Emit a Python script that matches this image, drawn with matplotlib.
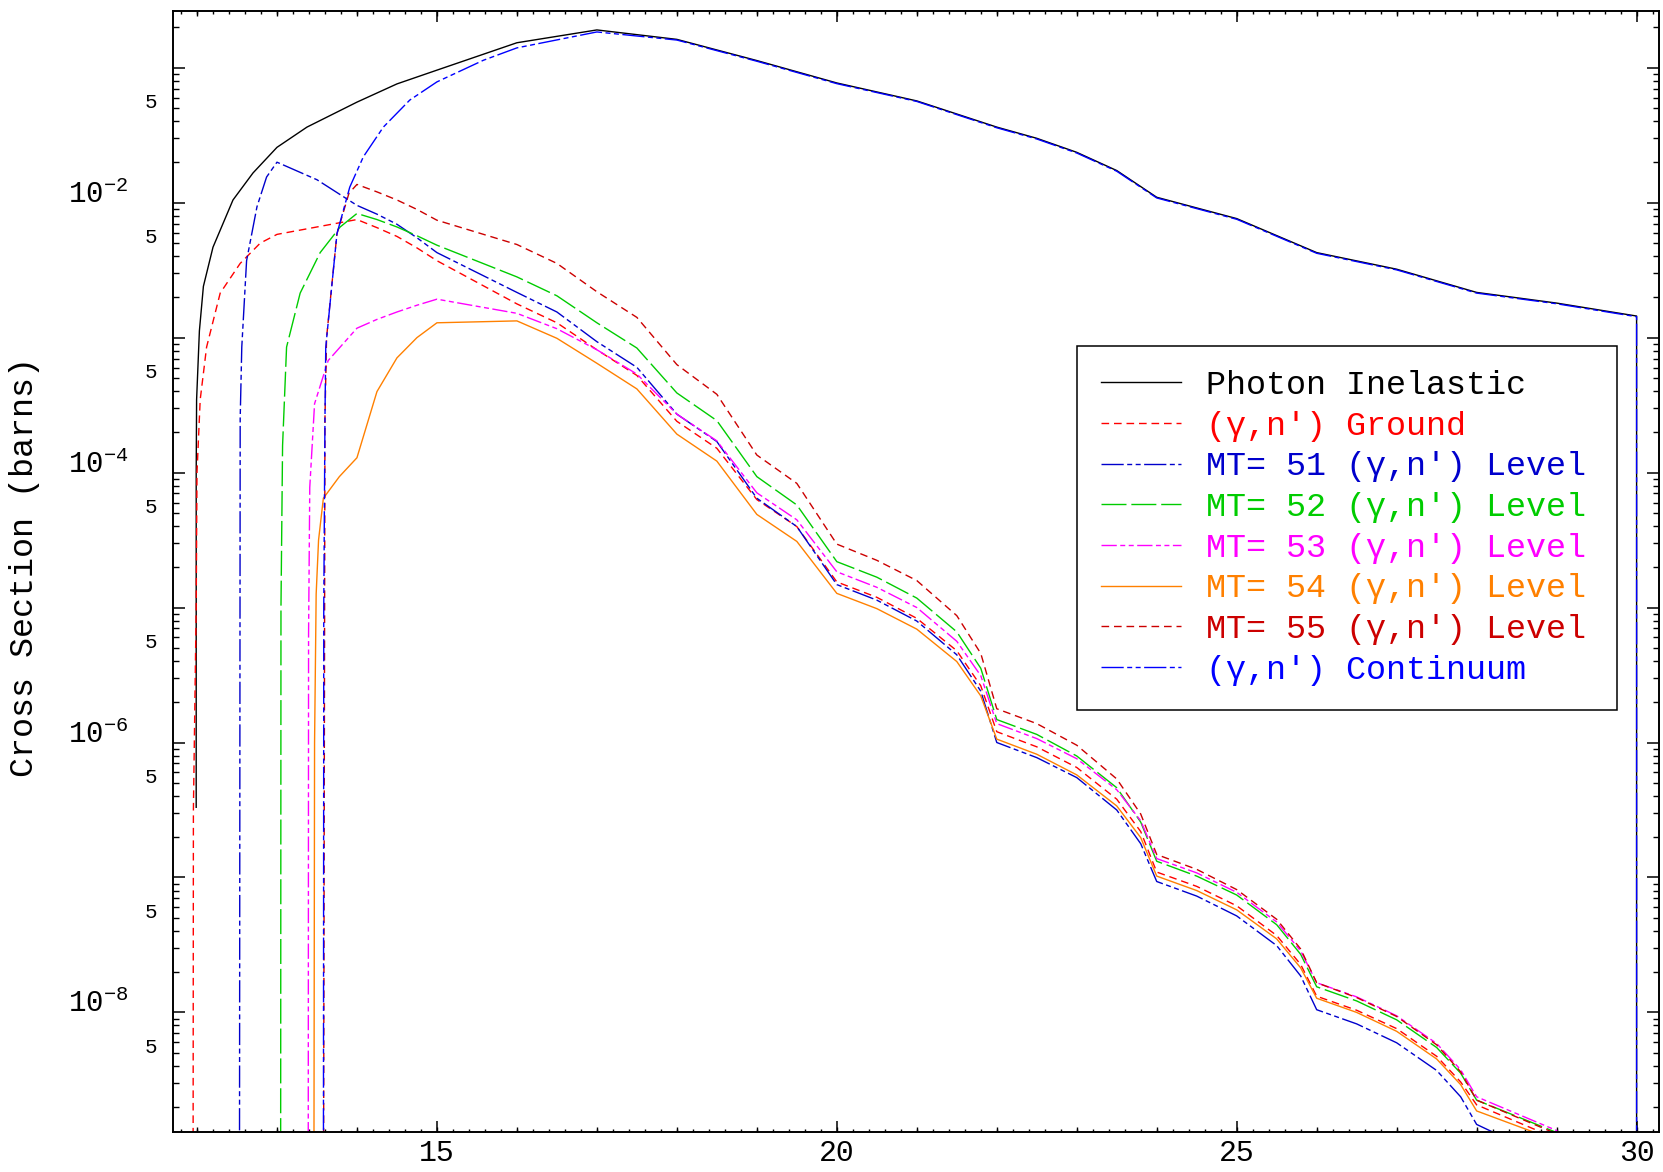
import numpy as np
import matplotlib
matplotlib.use("Agg")
import matplotlib.pyplot as plt
from matplotlib.ticker import FixedLocator, FuncFormatter, MultipleLocator

plt.rcParams['font.family'] = ['Liberation Mono', 'DejaVu Sans']
plt.rcParams['mathtext.fontset'] = 'custom'
plt.rcParams['mathtext.rm'] = 'Liberation Mono'
plt.rcParams['lines.scale_dashes'] = False

# ---------------------------------------------------------------------------
# data: energy (MeV) and log10 of cross section (barns)
# -10 means the curve leaves the frame at the bottom
# ---------------------------------------------------------------------------

inel_x = [11.99, 11.99, 11.995, 12.03, 12.08, 12.2, 12.45, 12.7, 13.0, 13.375,
          14.0, 14.5, 15.0, 16.0, 17.0, 18.0, 19.0, 20.0, 21.0, 22.0, 22.5,
          23.0, 23.5, 24.0, 25.0, 26.0, 27.0, 28.0, 29.0, 30.0, 30.0]
inel_logy = [-6.48, -4.0, -3.46, -2.95, -2.62, -2.33, -1.98, -1.78, -1.59, -1.44,
             -1.255, -1.12, -1.018, -0.815, -0.72, -0.79, -0.947, -1.113, -1.246, -1.44, -1.523,
             -1.627, -1.762, -1.96, -2.118, -2.37, -2.493, -2.665, -2.744, -2.84, -10]

cont_x = [13.58, 13.585, 13.6, 13.61, 13.75, 13.91, 14.08, 14.33, 14.66, 15.0,
          15.58, 16.0, 17.0, 18.0, 19.0, 20.0, 21.0, 22.0, 22.5, 23.0, 23.5,
          24.0, 25.0, 26.0, 27.0, 28.0, 29.0, 30.0, 30.0]
cont_logy = [-10, -5.0, -3.6, -3.07, -2.23, -1.885, -1.66, -1.44, -1.24, -1.105,
             -0.945, -0.853, -0.735, -0.795, -0.952, -1.118, -1.25, -1.445, -1.528, -1.632, -1.767,
             -1.965, -2.123, -2.375, -2.498, -2.67, -2.749, -2.845, -10]

# common energy grid of the partial reactions above 14 MeV
tail_x = [14.0, 14.25, 14.5, 14.75, 15.0, 16.0, 16.5, 17.0, 17.5, 18.0, 18.5, 19.0, 19.5, 20.0,
          20.5, 21.0, 21.5, 21.8, 22.0, 22.5, 23.0, 23.5, 23.8, 24.0, 24.5, 25.0,
          25.5, 25.8, 26.0, 26.5, 27.0, 27.5, 27.8, 28.0, 29.0, 30.0]

ground_head_x = [11.95, 11.955, 11.99, 12.0, 12.04, 12.12, 12.29, 12.54, 12.79, 13.0]
ground_head_logy = [-10, -6.5, -5.0, -4.0, -3.46, -3.07, -2.67, -2.45, -2.30, -2.235]
ground_logy = [-2.125, -2.185, -2.25, -2.335, -2.43, -2.75, -2.89, -3.09, -3.28, -3.62, -3.82, -4.20,
               -4.40, -4.81, -4.924, -5.08, -5.32, -5.58, -5.92, -6.032, -6.185, -6.42, -6.66,
               -6.96, -7.066, -7.21, -7.43, -7.645, -7.88, -7.984, -8.12, -8.325, -8.515, -8.685,
               -8.935, -10]

mt51_head_x = [12.53, 12.54, 12.56, 12.62, 12.75, 12.87, 13.0, 13.5]
mt51_head_logy = [-10, -3.6, -3.07, -2.43, -2.03, -1.81, -1.70, -1.83]
mt51_logy = [-2.02, -2.085, -2.16, -2.26, -2.37, -2.665, -2.81, -3.03, -3.22, -3.567, -3.77, -4.19,
             -4.40, -4.83, -4.945, -5.10, -5.35, -5.62, -6.00, -6.112, -6.26, -6.50, -6.75,
             -7.03, -7.138, -7.285, -7.505, -7.73, -7.98, -8.085, -8.225, -8.43, -8.625, -8.83,
             -9.11, -10]

mt52_head_x = [13.045, 13.05, 13.07, 13.12, 13.29, 13.54, 13.79]
mt52_head_logy = [-10, -5.0, -3.8, -3.07, -2.67, -2.37, -2.18]
mt52_logy = [-2.08, -2.125, -2.18, -2.245, -2.315, -2.55, -2.69, -2.89, -3.077, -3.41, -3.615, -4.03,
             -4.24, -4.66, -4.775, -4.93, -5.18, -5.45, -5.83, -5.94, -6.10, -6.335, -6.59,
             -6.88, -6.99, -7.13, -7.35, -7.57, -7.81, -7.915, -8.055, -8.26, -8.45, -8.65,
             -8.89, -10]

mt53_head_x = [13.39, 13.395, 13.41, 13.47, 13.64]
mt53_head_logy = [-10, -5.2, -4.11, -3.49, -3.17]
mt53_logy = [-2.93, -2.865, -2.81, -2.76, -2.715, -2.82, -2.934, -3.09, -3.27, -3.567, -3.765, -4.15,
             -4.35, -4.735, -4.85, -5.00, -5.25, -5.505, -5.86, -5.971, -6.12, -6.35, -6.58,
             -6.86, -6.966, -7.11, -7.33, -7.545, -7.78, -7.885, -8.025, -8.23, -8.425, -8.625,
             -8.875, -10]

mt54_head_x = [13.46, 13.47, 13.49, 13.52, 13.58, 13.78]
mt54_head_logy = [-10, -6.0, -4.9, -4.5, -4.19, -4.03]
mt54_logy = [-3.89, -3.40, -3.15, -3.0, -2.89, -2.876, -3.005, -3.19, -3.38, -3.715, -3.915, -4.31,
             -4.51, -4.895, -5.008, -5.16, -5.40, -5.655, -5.975, -6.087, -6.24, -6.47, -6.705,
             -6.99, -7.097, -7.24, -7.455, -7.67, -7.895, -8.0, -8.14, -8.345, -8.535, -8.73,
             -8.95, -10]

mt55_head_x = [13.58, 13.6, 13.62, 13.75, 13.9]
mt55_head_logy = [-10, -3.6, -3.0, -2.23, -1.93]
mt55_logy = [-1.865, -1.92, -1.98, -2.05, -2.13, -2.31, -2.45, -2.66, -2.85, -3.20, -3.42, -3.87,
             -4.08, -4.53, -4.65, -4.80, -5.06, -5.34, -5.75, -5.86, -6.02, -6.27, -6.53,
             -6.83, -6.94, -7.09, -7.31, -7.53, -7.78, -7.89, -8.03, -8.24, -8.44, -8.65,
             -8.90, -10]

labels = ["Photon Inelastic",
          "(γ,n') Ground",
          "MT= 51 (γ,n') Level",
          "MT= 52 (γ,n') Level",
          "MT= 53 (γ,n') Level",
          "MT= 54 (γ,n') Level",
          "MT= 55 (γ,n') Level",
          "(γ,n') Continuum"]

# ---------------------------------------------------------------------------
fig = plt.figure(figsize=(16.63, 11.72), dpi=100)
ax = fig.add_axes([0.10403, 0.03413, 0.89356, 0.95683])

series = [
    (inel_x, inel_logy, 'black', (None, None)),
    (ground_head_x + tail_x, ground_head_logy + ground_logy, '#ff0000', (5.5, 3.5)),
    (mt51_head_x + tail_x, mt51_head_logy + mt51_logy, '#0000cc', (16, 2.5, 3.6, 2.5, 3.6, 2.5)),
    (mt52_head_x + tail_x, mt52_head_logy + mt52_logy, '#00cc00', (18, 3.5)),
    (mt53_head_x + tail_x, mt53_head_logy + mt53_logy, '#ff00ff', (11, 2.5, 3.6, 2.5, 3.6, 2.5)),
    (mt54_head_x + tail_x, mt54_head_logy + mt54_logy, '#ff8000', (None, None)),
    (mt55_head_x + tail_x, mt55_head_logy + mt55_logy, '#cc0000', (5.5, 3.5)),
    (cont_x, cont_logy, '#0000ff', (16, 2.5, 3.6, 2.5, 3.6, 2.5)),
]

for (xs, ly, col, dash), lab in zip(series, labels):
    line, = ax.plot(xs, 10.0 ** np.array(ly), color=col, lw=1.0, label=lab)
    if dash[0] is not None:
        line.set_dashes(dash)

ax.set_yscale('log')
ax.set_xlim(11.7, 30.28)
ax.set_ylim(1.3e-9, 0.265)

# x ticks: long every 5, medium every 1, short every 0.2
ax.xaxis.set_major_locator(MultipleLocator(5))
ax.xaxis.set_minor_locator(MultipleLocator(0.2))
ax.tick_params(axis='x', which='major', direction='in', length=8, width=1.1,
               top=True, labelsize=21.5, pad=5)
ax.tick_params(axis='x', which='minor', direction='in', length=2.2, width=1.0, top=True)
for loc in ['bottom', 'top']:
    sec = ax.secondary_xaxis(loc)
    sec.set_xticks(np.arange(12, 31))
    sec.tick_params(direction='in', length=3.8, width=1.0,
                    labelbottom=False, labeltop=False)
    sec.spines[loc].set_visible(False)

# y ticks: decades (labelled every other one) and 2..9 (only 5 labelled)
decades = 10.0 ** np.arange(-9, 0)
ax.yaxis.set_major_locator(FixedLocator(decades))
ax.yaxis.set_minor_locator(FixedLocator(np.outer(decades, np.arange(2, 10)).ravel()))


def major_fmt(v, pos):
    e = int(round(np.log10(v)))
    if e % 2 == 0:
        return r'$\mathregular{10^{%d}}$' % e
    return ''


def minor_fmt(v, pos):
    m = v / 10.0 ** np.floor(np.log10(v) + 1e-9)
    return '5' if abs(m - 5) < 0.01 else ''


ax.yaxis.set_major_formatter(FuncFormatter(major_fmt))
ax.yaxis.set_minor_formatter(FuncFormatter(minor_fmt))
ax.tick_params(axis='y', which='major', direction='in', length=8.6, width=1.1,
               right=True, labelsize=21, pad=32)
ax.tick_params(axis='y', which='minor', direction='in', length=4.3, width=1.0,
               right=True, labelsize=15, pad=11.5)
for t in ax.yaxis.get_major_ticks() + ax.yaxis.get_minor_ticks():
    t.label1.set_verticalalignment('baseline')

for sp in ax.spines.values():
    sp.set_linewidth(1.4)

ax.set_ylabel('Cross Section (barns)', fontsize=24, va='center')
ax.yaxis.set_label_coords(-0.0996, 0.504)

# legend frame spans x = 0.608 .. 0.972 of the axes, top at 0.701
leg = ax.legend(loc='upper left', bbox_to_anchor=(0.6083, 0.0, 0.3634, 0.7009),
                mode='expand', borderaxespad=0,
                fontsize=24, fancybox=False, edgecolor='black', framealpha=1,
                handlelength=2.4, handletextpad=0.75, labelspacing=0.29,
                borderpad=0.72, labelcolor='linecolor')
leg.get_frame().set_linewidth(1.1)

fig.savefig('out.png', dpi=100)
